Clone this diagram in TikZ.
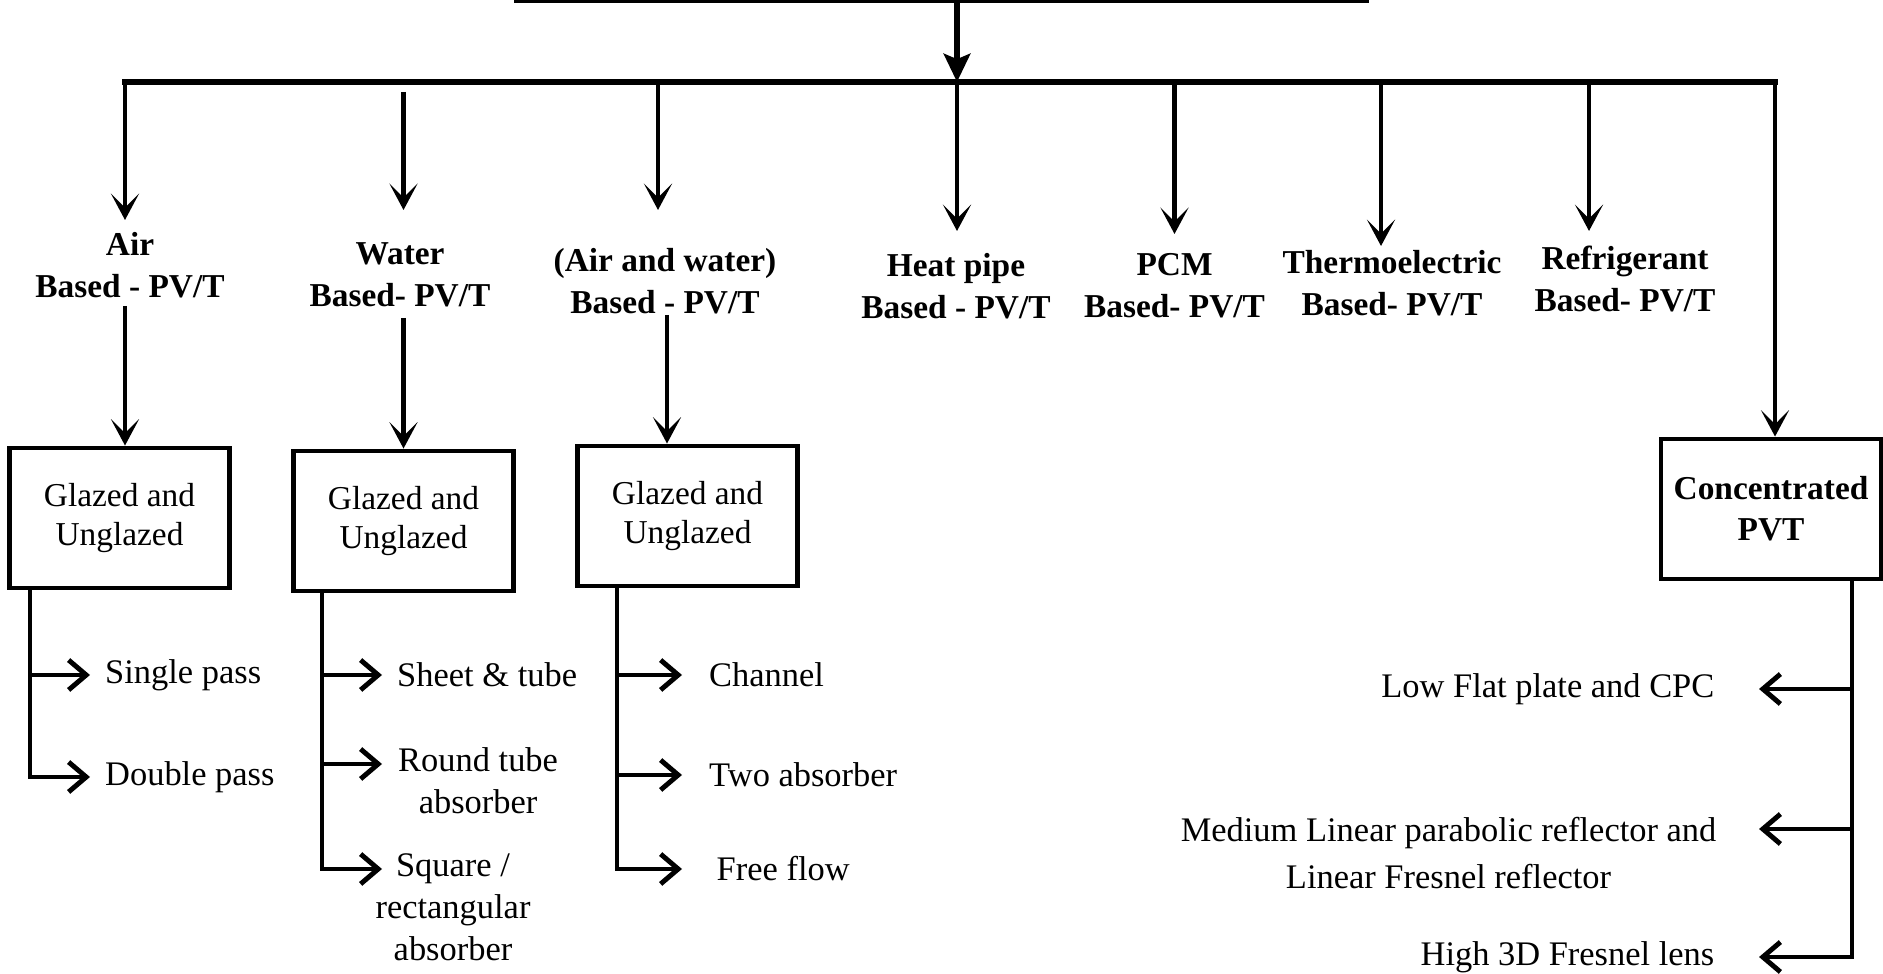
\documentclass[tikz,border=0pt]{standalone}
\usepackage{fontspec}
\setmainfont{Liberation Serif}
\usetikzlibrary{arrows.meta, positioning}

\begin{document}
\begin{tikzpicture}[
    catlabel/.style={font=\fontsize{9.5}{12}\selectfont\bfseries, align=center, inner sep=0pt},
    typebox/.style={draw, line width=1.4pt, minimum width=2.2cm, minimum height=1.4cm,
        font=\fontsize{9.5}{11}\selectfont, align=center, inner sep=0pt},
    subitem/.style={font=\fontsize{9.8}{12}\selectfont, align=center, inner sep=0pt},
    link/.style={line width=1.4pt},
    drop/.style={link, -{Stealth[length=7.5pt, width=8pt, inset=4pt]}},
    branch/.style={link, -{Straight Barb[length=5pt, width=8.5pt]}},
    >=Stealth
]
\useasboundingbox (0,0) rectangle (18.83,-9.74);
\clip (0,0) rectangle (18.83,-9.74);

% --- Root (cut by the top edge) ---
\node[draw, line width=1.4pt, minimum width=8.5cm, minimum height=1.2cm, anchor=south] (root) at (9.415,-0.03) {};
\coordinate (hub) at (9.57,-0.82);
\coordinate (barL) at (1.25,-0.82);
\coordinate (barR) at (17.75,-0.82);
\draw[line width=1.9pt, -{Stealth[length=8pt, width=7.5pt, inset=1.5pt]}] (root.south -| hub) -- (hub);
\draw[line width=1.6pt, line cap=rect] (barL) -- (barR);

% --- PV/T categories ---
\node[catlabel] (air) at (1.30,-2.65) {Air\\Based - PV/T};
\node[catlabel] (water) at (4.00,-2.75) {Water\\Based- PV/T};
\node[catlabel] (airwater) at (6.65,-2.81) {(Air and water)\\Based - PV/T};
\node[catlabel] (heat) at (9.56,-2.86) {Heat pipe\\Based - PV/T};
\node[catlabel] (pcm) at (11.745,-2.86) {PCM\\Based- PV/T};
\node[catlabel] (thermo) at (13.92,-2.83) {Thermoelectric\\Based- PV/T};
\node[catlabel] (refrig) at (16.25,-2.79) {Refrigerant\\Based- PV/T};

\coordinate (airtip) at (1.25,-2.20);
\coordinate (watertip) at (4.035,-2.10);
\coordinate (awtip) at (6.58,-2.10);
\coordinate (heattip) at (9.57,-2.31);
\coordinate (pcmtip) at (11.745,-2.34);
\coordinate (thermotip) at (13.81,-2.46);
\coordinate (refrigtip) at (15.89,-2.31);
\draw[drop] (barL) -- (airtip);
\draw[drop] ([yshift=-0.1cm]watertip |- barL) -- (watertip);
\draw[drop] (awtip |- barL) -- (awtip);
\draw[drop] (hub) -- (heattip);
\draw[drop] (pcmtip |- barL) -- (pcmtip);
\draw[drop] (thermotip |- barL) -- (thermotip);
\draw[drop] (refrigtip |- barL) -- (refrigtip);

% --- Collector boxes ---
\node[typebox] (airbox) at (1.195,-5.18) {Glazed and\\Unglazed};
\node[typebox] (waterbox) at (4.035,-5.21) {Glazed and\\Unglazed};
\node[typebox] (awbox) at (6.875,-5.16) {Glazed and\\Unglazed};
\node[typebox, font=\fontsize{9.5}{11.6}\selectfont\bfseries] (concbox) at (17.71,-5.09) {Concentrated\\PVT};

\coordinate (airout) at (1.25,-3.06);
\coordinate (waterout) at (4.035,-3.18);
\coordinate (awout) at (6.67,-3.15);
\draw[drop] (airout) -- (airout |- airbox.north);
\draw[drop] (waterout) -- (waterout |- waterbox.north);
\draw[drop] (awout) -- (awout |- awbox.north);
\draw[drop] (barR) -- (barR |- concbox.north);

% --- Air sub-types ---
\coordinate (airtrunk) at (0.30,-5.9);
\coordinate (singlein) at (0.90,-6.75);
\coordinate (doublein) at (0.90,-7.77);
\node[subitem, right=0.145cm of singlein] (single) {Single pass};
\node[subitem, right=0.145cm of doublein] (double) {Double pass};
\draw[branch] (airtrunk |- airbox.south) |- (doublein);
\draw[branch] (airtrunk |- singlein) -- (singlein);

% --- Water sub-types ---
\coordinate (watertrunk) at (3.22,-5.9);
\coordinate (sheetin) at (3.82,-6.75);
\coordinate (roundin) at (3.82,-7.64);
\coordinate (squarein) at (3.82,-8.69);
\node[subitem, right=0.145cm of sheetin] (sheet) {Sheet \& tube};
\node[subitem, right=0.155cm of roundin, yshift=-0.17cm] (round) {Round tube\\absorber};
\node[subitem] (square) at (4.53,-9.07) {Square /\\rectangular\\absorber};
\draw[branch] (watertrunk |- waterbox.south) |- (squarein);
\draw[branch] (watertrunk |- sheetin) -- (sheetin);
\draw[branch] (watertrunk |- roundin) -- (roundin);

% --- Air and water sub-types ---
\coordinate (awtrunk) at (6.17,-5.9);
\coordinate (channelin) at (6.82,-6.75);
\coordinate (twoin) at (6.82,-7.75);
\coordinate (freein) at (6.82,-8.69);
\node[subitem, right=0.265cm of channelin] (channel) {Channel};
\node[subitem, right=0.265cm of twoin] (two) {Two absorber};
\node[subitem, right=0.34cm of freein] (free) {Free flow};
\draw[branch] (awtrunk |- awbox.south) |- (freein);
\draw[branch] (awtrunk |- channelin) -- (channelin);
\draw[branch] (awtrunk |- twoin) -- (twoin);

% --- Concentration levels ---
\coordinate (conctrunk) at (18.52,-6);
\coordinate (lowin) at (17.59,-6.89);
\coordinate (medin) at (17.59,-8.29);
\coordinate (highin) at (17.59,-9.57);
\node[subitem, left=0.44cm of lowin] (low) {Low Flat plate and CPC};
\node[subitem, font=\fontsize{9.8}{13.6}\selectfont, left=0.42cm of medin, yshift=-0.24cm] (medium) {Medium Linear parabolic reflector and\\Linear Fresnel reflector};
\node[subitem, left=0.44cm of highin] (high) {High 3D Fresnel lens};
\draw[branch] (conctrunk |- concbox.south) |- (highin);
\draw[branch] (conctrunk |- lowin) -- (lowin);
\draw[branch] (conctrunk |- medin) -- (medin);

\end{tikzpicture}
\end{document}
